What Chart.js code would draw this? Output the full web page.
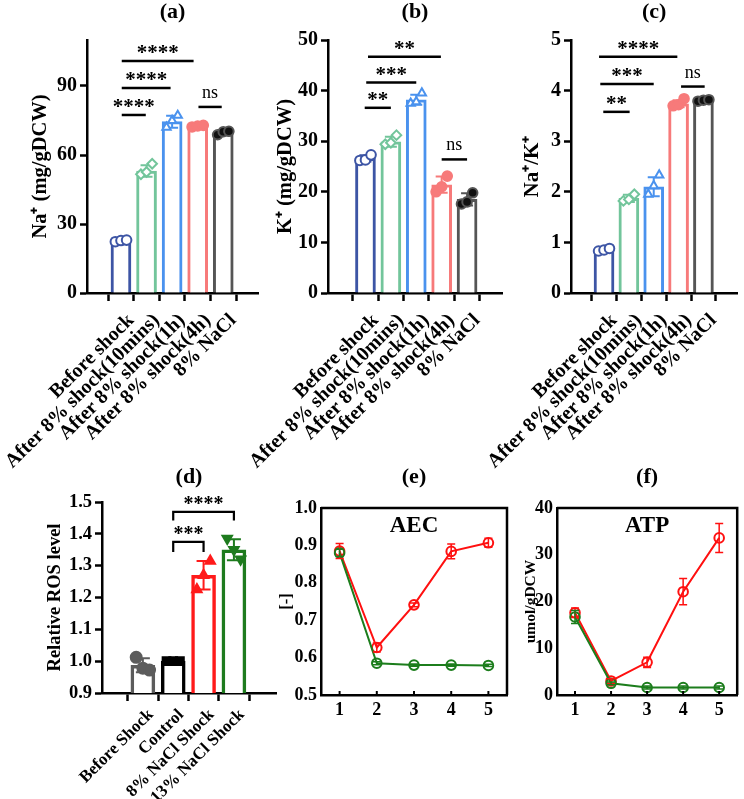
<!DOCTYPE html>
<html><head><meta charset="utf-8">
<script src="https://cdn.jsdelivr.net/npm/chart.js@4.4.1/dist/chart.umd.min.js"></script>
<style>
html,body{margin:0;padding:0;background:#fff;width:744px;height:799px;overflow:hidden}
canvas{position:absolute;left:0;top:0}
</style></head><body>
<canvas id="ca" width="744" height="799"></canvas>
<canvas id="cb" width="744" height="799"></canvas>
<canvas id="cc" width="744" height="799"></canvas>
<canvas id="cd" width="744" height="799"></canvas>
<canvas id="ce" width="744" height="799"></canvas>
<canvas id="cf" width="744" height="799"></canvas>
<script>
// ---------------- DATA ----------------
const barCategories = ['Before shock','After 8% shock(10mins)','After 8% shock(1h)','After 8% shock(4h)','8% NaCl'];
const naMean = [22.7, 53.0, 74.5, 72.5, 69.6];
const naSD   = [0.4, 2.5, 2.6, 0.4, 0.8];
const naRep  = [[22.3,22.8,23.0],[51.6,52.6,56.2],[72.0,75.0,77.2],[72.2,72.6,72.9],[68.8,70.1,70.3]];
const naTicks = [0,30,60,90];
const naSig = [[0.03,0.97,77.4,'****'],[0.03,1.94,89.1,'****'],[0.03,2.84,100.9,'****'],[3.03,3.94,80.9,'ns']];

const kMean = [26.6, 29.9, 38.2, 21.4, 18.5];
const kSD   = [0.6, 1.0, 1.0, 1.6, 1.2];
const kRep  = [[26.2,26.3,27.3],[29.4,29.7,31.2],[37.5,37.8,39.5],[20.0,21.0,23.1],[17.6,18.0,19.8]];
const kTicks = [0,10,20,30,40,50];
const kSig = [[-0.03,1.0,36.6,'**'],[0.03,2.0,41.6,'***'],[0.1,2.97,46.7,'**'],[3.0,4.0,26.4,'ns']];

const nkMean = [0.85, 1.87, 2.10, 3.74, 3.81];
const nkSD   = [0.03, 0.07, 0.19, 0.07, 0.02];
const nkRep  = [[0.83,0.85,0.88],[1.82,1.85,1.95],[1.95,2.12,2.33],[3.70,3.72,3.84],[3.79,3.81,3.82]];
const nkTicks = [0,1,2,3,4,5];
const nkSig = [[-0.03,1.03,3.58,'**'],[-0.15,2.0,4.13,'***'],[-0.2,2.95,4.67,'****'],[3.1,4.05,4.08,'ns']];

const rosCategories = ['Before Shock','Control','8% NaCl Shock','13% NaCl Shock'];
const rosMean = [0.987, 1.0, 1.27, 1.35];
const rosSD   = [0.022, 0.005, 0.045, 0.033];
const rosRep  = [[1.012,0.978,0.972],[1.0,1.0,1.0],[1.225,1.27,1.315],[1.385,1.35,1.32]];
const rosTicks = [0.9,1.0,1.1,1.2,1.3,1.4,1.5];
const rosSig = [[1,2,1.375,1.343,'***'],[1,3,1.469,1.442,'****']];

const timePoints = [1,2,3,4,5];
const aecRed = [0.885, 0.627, 0.741, 0.884, 0.907];
const aecRedErr = [0.02, 0.012, 0.005, 0.02, 0.012];
const aecGreen = [0.880, 0.585, 0.580, 0.580, 0.579];
const aecGreenErr = [0.01, 0.004, 0.003, 0.003, 0.003];
const aecTicks = [0.5,0.6,0.7,0.8,0.9,1.0];

const atpRed = [17.6, 3.0, 7.0, 22.1, 33.6];
const atpRedErr = [1.0, 0.5, 1.1, 2.8, 3.1];
const atpGreen = [16.7, 2.5, 1.6, 1.6, 1.6];
const atpGreenErr = [1.4, 0.3, 0.3, 0.3, 0.3];
const atpTicks = [0,10,20,30,40];

// ---------------- STYLE ----------------
const FONT = "'Liberation Serif','Times New Roman',serif";
Chart.defaults.font.family = FONT;
Chart.defaults.color = '#000';
Chart.defaults.animation = false;
Chart.defaults.responsive = false;
Chart.defaults.devicePixelRatio = 1;
Chart.defaults.plugins.legend.display = false;
Chart.defaults.plugins.tooltip.enabled = false;

const barColors = ['#3d55a5','#72c59b','#4a92ee','#f77a7a','#555555'];
const pointStyles = ['circle','rectRot','triangle','circle','circle'];
const pointFills = ['#ffffff','#ffffff','#ffffff','#f77a7a','#111111'];
const rosColors = ['#5c5c5c','#000000','#ff1a1a','#1e7b1e'];
const rosStyles = ['circle','rect','triangle','triangle'];
const rosRot = [0,0,0,180];
const RED = '#ff1010', GREEN = '#1c7d1c';

function yAxis(o) {
  return {
    type:'linear', min:o.min, max:o.max,
    afterBuildTicks: s => { s.ticks = o.ticks.map(v => ({value:v})); },
    afterFit: s => { s.width = o.left; },
    border:{display:true,color:'#000',width:2.5},
    grid:{drawOnChartArea:false, drawTicks:o.tickLen>0, tickLength:o.tickLen||0, tickWidth:2.5, tickColor:'#000'},
    ticks:{color:'#000', padding:o.pad, font:{size:o.fs, weight:'bold'}, callback:o.fmt},
    title:{display:true, text:o.title, color:'#000', font:{size:o.tfs, weight:'bold'}, padding:{top:o.tx - o.tfs*0.6, bottom:0}}
  };
}
function xAxis(o) {
  return {
    type:'linear', min:o.min, max:o.max,
    afterBuildTicks: s => { s.ticks = o.ticks.map(v => ({value:v})); },
    afterFit: s => { s.height = 799 - o.bottom; },
    border:{display:true,color:'#000',width:2.5},
    grid:{drawOnChartArea:false, drawTicks:o.tickLen>0, tickLength:o.tickLen||0, tickWidth:2.5, tickColor:'#000'},
    ticks:{color:'#000', padding:o.pad, labelOffset:o.lo||0, autoSkip:false, maxRotation:o.rot, minRotation:o.rot,
           font:{size:o.fs, weight:'bold'}, callback:o.fmt}
  };
}

function drawErr(ctx, X, Y, e) {
  ctx.save();
  ctx.lineWidth = e.lw;
  e.x.forEach((xv, i) => {
    const px = X.getPixelForValue(xv);
    const yt = Y.getPixelForValue(e.mean[i] + e.sd[i]);
    const yb = Y.getPixelForValue(e.mean[i] - e.sd[i]);
    ctx.strokeStyle = Array.isArray(e.color) ? e.color[i] : e.color;
    ctx.beginPath();
    ctx.moveTo(px, yb); ctx.lineTo(px, yt);
    ctx.moveTo(px - e.cap/2, yt); ctx.lineTo(px + e.cap/2, yt);
    ctx.moveTo(px - e.cap/2, yb); ctx.lineTo(px + e.cap/2, yb);
    ctx.stroke();
  });
  ctx.restore();
}

function deco(cfg) {
  return {
    id:'deco',
    afterDatasetDraw(chart, args) {
      if (cfg.errAfter !== undefined && args.index === cfg.errAfter) {
        cfg.err.forEach(e => drawErr(chart.ctx, chart.scales.x, chart.scales.y, e));
      }
    },
    afterDatasetsDraw(chart) {
      if (cfg.errAfter === undefined && cfg.err) {
        cfg.err.forEach(e => drawErr(chart.ctx, chart.scales.x, chart.scales.y, e));
      }
    },
    afterDraw(chart) {
      const ctx = chart.ctx, X = chart.scales.x, Y = chart.scales.y, A = chart.chartArea;
      ctx.save();
      ctx.fillStyle = '#000';
      ctx.textAlign = 'center'; ctx.textBaseline = 'middle';
      ctx.font = 'bold 22px ' + FONT;
      ctx.fillText(cfg.label, (A.left + A.right)/2, A.top - cfg.labelDy);
      if (cfg.frame) {
        ctx.strokeStyle = '#000'; ctx.lineWidth = 2.5;
        ctx.beginPath();
        ctx.moveTo(A.left, A.top); ctx.lineTo(A.right, A.top); ctx.lineTo(A.right, A.bottom);
        ctx.stroke();
        ctx.lineWidth = 2;
        cfg.innerTicks.forEach(v => {
          const px = X.getPixelForValue(v);
          ctx.beginPath(); ctx.moveTo(px, A.bottom); ctx.lineTo(px, A.bottom - 4); ctx.stroke();
        });
        ctx.font = 'bold 23px ' + FONT;
        ctx.textBaseline = 'middle';
        ctx.fillText(cfg.inner, (A.left + A.right)/2, A.top + 18);
      }
      if (cfg.sig) {
        ctx.strokeStyle = '#000'; ctx.lineWidth = 2.5;
        cfg.sig.forEach(s => {
          const x1 = X.getPixelForValue(s[0]), x2 = X.getPixelForValue(s[1]), y = Y.getPixelForValue(s[2]);
          ctx.beginPath(); ctx.moveTo(x1, y); ctx.lineTo(x2, y); ctx.stroke();
          const t = s[3];
          ctx.textBaseline = 'alphabetic';
          if (t === 'ns') { ctx.font = '18px ' + FONT; ctx.fillText(t, (x1+x2)/2, y - 9); }
          else { ctx.font = 'bold 21px ' + FONT; ctx.fillText(t, (x1+x2)/2, y - 2); }
        });
      }
      if (cfg.brackets) {
        ctx.strokeStyle = '#000'; ctx.lineWidth = 2.2;
        cfg.brackets.forEach(s => {
          const x1 = X.getPixelForValue(s[0]), x2 = X.getPixelForValue(s[1]);
          const y = Y.getPixelForValue(s[2]), yl = Y.getPixelForValue(s[3]);
          ctx.beginPath(); ctx.moveTo(x1, yl); ctx.lineTo(x1, y); ctx.lineTo(x2, y); ctx.lineTo(x2, yl); ctx.stroke();
          ctx.font = 'bold 20px ' + FONT; ctx.textBaseline = 'alphabetic';
          ctx.fillText(s[4], (x1+x2)/2, y - 2);
        });
      }
      ctx.restore();
    }
  };
}

function repData(rep) {
  return rep.flatMap((r, i) => r.map((v, j) => ({x: i + (j - 1) * 0.22, y: v})));
}
function repAttr(rep, attr) {
  return rep.flatMap((r, i) => r.map(() => attr[i]));
}

function barPanel(id, o) {
  const cats = o.mean.map((_, i) => i);
  new Chart(document.getElementById(id), {
    type:'bar',
    data:{datasets:[
      {type:'bar', order:1, data:o.mean.map((v,i)=>({x:i,y:v})), backgroundColor:'#ffffff',
       borderColor:o.colors, borderWidth:o.bw, barThickness:o.bt, borderSkipped:'start'},
      {type:'scatter', order:0, data:repData(o.rep), pointStyle:repAttr(o.rep,o.styles),
       rotation:repAttr(o.rep,o.rot||o.styles.map(()=>0)),
       pointRadius:o.pr, pointBorderWidth:2, pointBorderColor:repAttr(o.rep,o.colors),
       pointBackgroundColor:repAttr(o.rep,o.fills)}
    ]},
    options:{
      layout:{padding:{left:0, top:o.top, right:744 - o.right, bottom:0}},
      scales:{
        x:xAxis({min:o.xmin, max:o.xmax, ticks:cats, bottom:o.bottom, tickLen:8, pad:o.xpad, lo:o.xlo, fs:o.xfs, rot:45, fmt:v=>o.cats[Math.round(v)]}),
        y:yAxis({min:o.ymin, max:o.ymax, ticks:o.ticks, left:o.left, tickLen:7, pad:3, fs:o.yfs, fmt:o.fmt, title:o.title, tfs:o.tfs, tx:o.tx})
      }
    },
    plugins:[deco({label:o.label, labelDy:o.labelDy, errAfter:0,
      err:[{x:cats, mean:o.mean, sd:o.sd, color:o.colors, cap:o.cap, lw:2}],
      sig:o.sig, brackets:o.brackets})]
  });
}

barPanel('ca', {mean:naMean, sd:naSD, rep:naRep, colors:barColors, styles:pointStyles, fills:pointFills, cats:barCategories,
  bw:3, bt:20, pr:4.8, top:40, right:258, bottom:293, left:87, xmin:-0.66, xmax:4.69, ymin:0, ymax:110, ticks:naTicks,
  xfs:20, xpad:8, xlo:10, yfs:20, fmt:v=>String(v), title:'Na\u207A (mg/gDCW)', tfs:20.5, tx:41, label:'(a)', labelDy:28, cap:12, sig:naSig});
barPanel('cb', {mean:kMean, sd:kSD, rep:kRep, colors:barColors, styles:pointStyles, fills:pointFills, cats:barCategories,
  bw:3, bt:20, pr:4.8, top:40, right:502, bottom:293, left:328, xmin:-0.79, xmax:4.69, ymin:0, ymax:50, ticks:kTicks,
  xfs:20, xpad:8, xlo:10, yfs:20, fmt:v=>String(v), title:'K\u207A (mg/gDCW)', tfs:20.5, tx:286, label:'(b)', labelDy:28, cap:12, sig:kSig});
barPanel('cc', {mean:nkMean, sd:nkSD, rep:nkRep, colors:barColors, styles:pointStyles, fills:pointFills, cats:barCategories,
  bw:3, bt:20, pr:4.8, top:40, right:741, bottom:293, left:571, xmin:-0.66, xmax:4.69, ymin:0, ymax:5, ticks:nkTicks,
  xfs:20, xpad:8, xlo:10, yfs:20, fmt:v=>String(v), title:'Na\u207A/K\u207A', tfs:21, tx:533, label:'(c)', labelDy:28, cap:12, sig:nkSig});
barPanel('cd', {mean:rosMean, sd:rosSD, rep:rosRep, colors:rosColors, styles:rosStyles, fills:rosColors, rot:rosRot, cats:rosCategories,
  bw:3.5, bt:24, pr:5.5, top:502, right:276, bottom:693, left:102, xmin:-0.63, xmax:3.67, ymin:0.9, ymax:1.5, ticks:rosTicks,
  xfs:17, xpad:4, xlo:8, yfs:18.5, fmt:v=>v.toFixed(1), title:'Relative ROS level', tfs:18.5, tx:55, label:'(d)', labelDy:25, cap:14, brackets:rosSig});

function linePanel(id, o) {
  new Chart(document.getElementById(id), {
    type:'line',
    data:{datasets:[
      {data:timePoints.map((t,i)=>({x:t,y:o.green[i]})), borderColor:GREEN, borderWidth:2, pointRadius:4.8,
       pointBorderWidth:2, pointBorderColor:GREEN, pointBackgroundColor:'rgba(255,255,255,0)', tension:0},
      {data:timePoints.map((t,i)=>({x:t,y:o.red[i]})), borderColor:RED, borderWidth:2, pointRadius:4.8,
       pointBorderWidth:2, pointBorderColor:RED, pointBackgroundColor:'rgba(255,255,255,0)', tension:0}
    ]},
    options:{
      layout:{padding:{left:0, top:508, right:744 - o.right, bottom:0}},
      scales:{
        x:xAxis({min:0.5, max:5.5, ticks:timePoints, bottom:695, tickLen:0, pad:5, fs:18, rot:0, fmt:v=>String(v)}),
        y:yAxis({min:o.ymin, max:o.ymax, ticks:o.ticks, left:o.left, tickLen:0, pad:4, fs:18, fmt:o.fmt, title:o.title, tfs:o.tfs, tx:o.tx})
      }
    },
    plugins:[deco({label:o.label, labelDy:31, frame:true, inner:o.inner, innerTicks:timePoints,
      err:[{x:timePoints, mean:o.red, sd:o.redErr, color:RED, cap:8, lw:1.5},
           {x:timePoints, mean:o.green, sd:o.greenErr, color:GREEN, cap:8, lw:1.5}]})]
  });
}
linePanel('ce', {red:aecRed, redErr:aecRedErr, green:aecGreen, greenErr:aecGreenErr, ymin:0.5, ymax:1.0, ticks:aecTicks,
  fmt:v=>v.toFixed(1), left:321, right:507, title:'[-]', tfs:16.5, tx:287, label:'(e)', inner:'AEC'});
linePanel('cf', {red:atpRed, redErr:atpRedErr, green:atpGreen, greenErr:atpGreenErr, ymin:0, ymax:40, ticks:atpTicks,
  fmt:v=>String(v), left:557, right:743, title:'umol/gDCW', tfs:15.5, tx:531, label:'(f)', inner:'ATP'});
</script>
</body></html>
